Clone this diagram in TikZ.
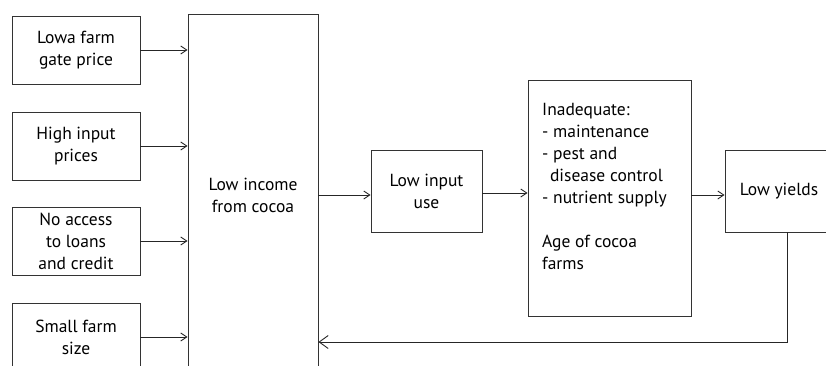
\documentclass[tikz,border=0pt]{standalone}
\usepackage{fontspec}
\setmainfont{PT Sans}
\usetikzlibrary{arrows.meta}
\begin{document}
\begin{tikzpicture}[x=1pt,y=-1pt,
  txt/.style={font=\fontsize{17.5}{22}\selectfont},
  box/.style={txt,draw=black!80,line width=0.9pt,inner sep=0pt,align=center},
  arr/.style={draw=black!85,line width=0.9pt,-{Straight Barb[length=6pt,width=8pt]}},
  bigarr/.style={draw=black!85,line width=0.9pt,-{Straight Barb[length=9pt,width=13pt]}}]
\useasboundingbox (0,0) rectangle (826,365);
\clip (0,0) rectangle (826,365);
\node[box,minimum width=128pt,minimum height=68pt] (a) at (76,50) {Lowa farm\\gate price};
\node[box,minimum width=128pt,minimum height=68pt] (b) at (76,146) {High input\\prices};
\node[box,minimum width=128pt,minimum height=68pt] (c) at (76,241) {No access\\to loans\\and credit};
\node[box,minimum width=128pt,minimum height=68pt] (d) at (76,337) {Small farm\\size};
\node[box,minimum width=130pt,minimum height=362pt] (big) at (253,195) {Low income\\from cocoa};
\node[box,minimum width=111pt,minimum height=82pt] (lowin) at (426.5,191) {Low input\\use};
\node[box,minimum width=163pt,minimum height=236pt] (inad) at (609.5,198) {};
\node[txt,align=left,anchor=north west,inner sep=0pt] (inadtxt) at (542,103)
  {Inadequate:\\- maintenance\\- pest and\\\hspace*{0.45em}disease control\\- nutrient supply\\[22pt]Age of cocoa\\farms};
\node[box,minimum width=108pt,minimum height=82pt] (yld) at (779,191) {Low yields};
\coordinate (turn) at (787,342);
\draw[arr] (a.east) -- (big.west |- a.east);
\draw[arr] (b.east) -- (big.west |- b.east);
\draw[arr] (c.east) -- (big.west |- c.east);
\draw[arr] (d.east) -- (big.west |- d.east);
\draw[arr] (big.east |- 0,195) -- (lowin.west |- 0,195);
\draw[arr] (lowin.east |- 0,193) -- (inad.west |- 0,193);
\draw[arr] (inad.east |- 0,195) -- (yld.west |- 0,195);
\draw[bigarr] (yld.south -| turn) -- (turn) -- (big.east |- turn);
\end{tikzpicture}
\end{document}
